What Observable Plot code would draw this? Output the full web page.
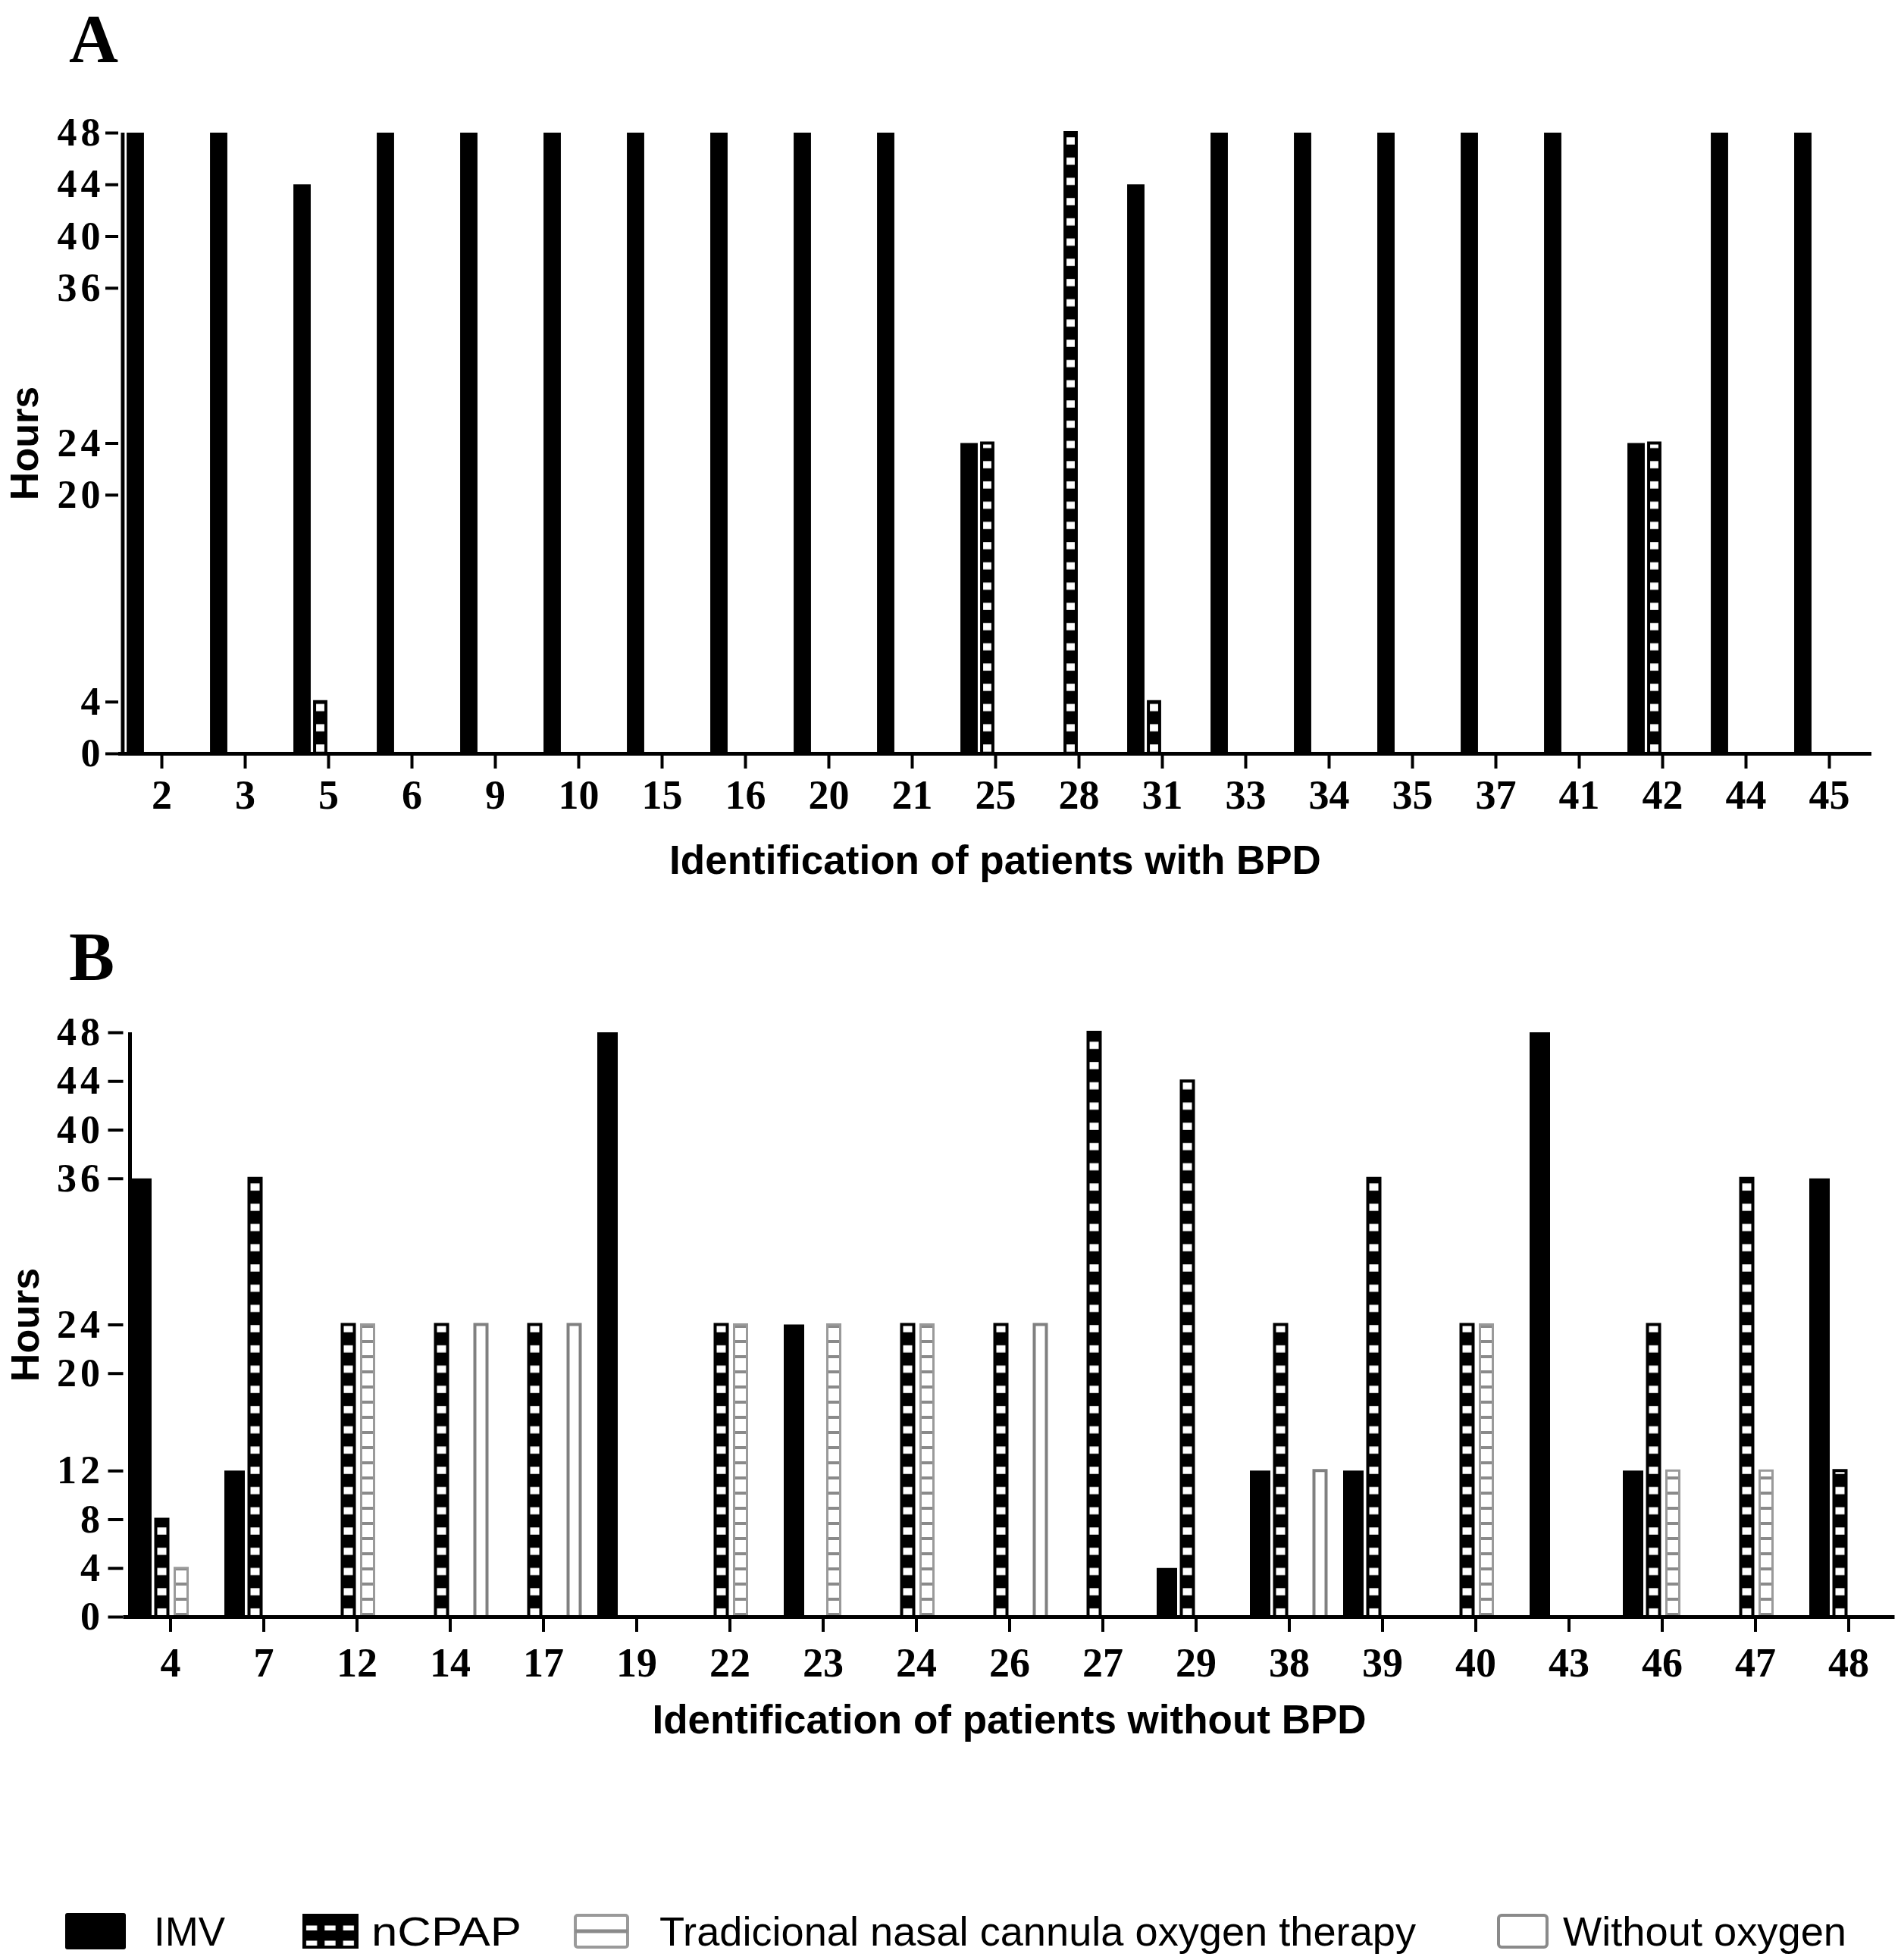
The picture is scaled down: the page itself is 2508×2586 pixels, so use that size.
<!DOCTYPE html>
<html>
<head>
<meta charset="utf-8">
<script src="https://cdn.jsdelivr.net/npm/d3@7"></script>
<script src="https://cdn.jsdelivr.net/npm/@observablehq/plot@0.6"></script>
<style>
  html, body { margin: 0; padding: 0; background: #fff; }
  body { width: 2508px; height: 2586px; position: relative; overflow: hidden; }
  .panel { position: absolute; left: 0; }
  .panel svg { display: block; }
  g[aria-label="y-axis tick label"] text { letter-spacing: 5px; }
  #overlay { position: absolute; left: 0; top: 0; pointer-events: none; }
</style>
</head>
<body>
<svg width="0" height="0" style="position:absolute">
  <defs>
    <pattern id="ncpapFill" patternUnits="userSpaceOnUse" x="0" y="4" width="10" height="26.7">
      <rect width="10" height="26.7" fill="#000"/>
      <rect y="17" width="10" height="9.5" fill="#fff"/>
    </pattern>
    <pattern id="tradFill" patternUnits="userSpaceOnUse" x="0" y="0" width="10" height="20">
      <rect width="10" height="20" fill="#fff"/>
      <rect y="8" width="10" height="4" fill="#8a8a8a"/>
    </pattern>
    <pattern id="lgNcpap" patternUnits="userSpaceOnUse" x="399" y="2527" width="24.33" height="20">
      <rect width="24.33" height="20" fill="#000"/>
      <rect x="5" y="13.5" width="14.3" height="6.5" fill="#fff"/>
    </pattern>
  </defs>
</svg>
<div id="panelA" class="panel" style="top:0px"></div>
<div id="panelB" class="panel" style="top:1220px"></div>
<svg id="overlay" width="2508" height="2586">
  <text x="91" y="82" font-family="Liberation Serif" font-weight="bold" font-size="90">A</text>
  <text x="91" y="1293" font-family="Liberation Serif" font-weight="bold" font-size="90">B</text>
  <g font-family="Liberation Sans" font-size="54" fill="#000">
    <rect x="86" y="2524" width="80" height="48" rx="3" fill="#000"/>
    <text x="203" y="2567" textLength="94" lengthAdjust="spacingAndGlyphs">IMV</text>
    <rect x="400.5" y="2526.5" width="71" height="43" fill="url(#lgNcpap)" stroke="#000" stroke-width="3"/>
    <text x="490" y="2567" textLength="198" lengthAdjust="spacingAndGlyphs">nCPAP</text>
    <rect x="759" y="2527" width="69" height="42" rx="3" fill="#fff" stroke="#9a9a9a" stroke-width="4"/>
    <rect x="759" y="2545.5" width="69" height="5" fill="#8a8a8a"/>
    <text x="870" y="2567" textLength="998" lengthAdjust="spacingAndGlyphs">Tradicional nasal cannula oxygen therapy</text>
    <rect x="1977" y="2527" width="64" height="42" rx="4" fill="#fff" stroke="#8a8a8a" stroke-width="4"/>
    <text x="2062" y="2567" textLength="374" lengthAdjust="spacingAndGlyphs">Without oxygen</text>
  </g>
</svg>
<script>
// ---------- Panel A: patients with BPD ----------
const patientsA = ["2","3","5","6","9","10","15","16","20","21","25","28","31","33","34","35","37","41","42","44","45"];
const imvA      = [48, 48, 44, 48, 48, 48, 48, 48, 48, 48, 24, 0, 44, 48, 48, 48, 48, 48, 24, 48, 48];
const ncpapA    = [0, 0, 4, 0, 0, 0, 0, 0, 0, 0, 24, 48, 4, 0, 0, 0, 0, 0, 24, 0, 0];
const tradA     = [0, 0, 0, 0, 0, 0, 0, 0, 0, 0, 0, 0, 0, 0, 0, 0, 0, 0, 0, 0, 0];
const withoutA  = [0, 0, 0, 0, 0, 0, 0, 0, 0, 0, 0, 0, 0, 0, 0, 0, 0, 0, 0, 0, 0];
const yTicksA   = [0, 4, 20, 24, 36, 40, 44, 48];
const xLabelA   = "Identification of patients with BPD";

// ---------- Panel B: patients without BPD ----------
const patientsB = ["4","7","12","14","17","19","22","23","24","26","27","29","38","39","40","43","46","47","48"];
const imvB      = [36, 12, 0, 0, 0, 48, 0, 24, 0, 0, 0, 4, 12, 12, 0, 48, 12, 0, 36];
const ncpapB    = [8, 36, 24, 24, 24, 0, 24, 0, 24, 24, 48, 44, 24, 36, 24, 0, 24, 36, 12];
const tradB     = [4, 0, 24, 0, 0, 0, 24, 24, 24, 0, 0, 0, 0, 0, 24, 0, 12, 12, 0];
const withoutB  = [0, 0, 0, 24, 24, 0, 0, 0, 0, 24, 0, 0, 12, 0, 0, 0, 0, 0, 0];
const yTicksB   = [0, 4, 8, 12, 20, 24, 36, 40, 44, 48];
const xLabelB   = "Identification of patients without BPD";

const seriesNames = ["IMV", "nCPAP", "Tradicional nasal cannula oxygen therapy", "Without oxygen"];
const yLabel = "Hours";

// visual styles per series (bar edges relative to group centre, in px)
const stylesA = [
  {l: -46, r: -23, fill: "#000"},
  {l: -20, r: -1, fill: "url(#ncpapFill)", stroke: "#000", strokeWidth: 4},
  {l: 3, r: 22, fill: "url(#tradFill)", stroke: "#9a9a9a", strokeWidth: 3},
  {l: 27, r: 46, fill: "#fff", stroke: "#808080", strokeWidth: 4}
];
const stylesB = [
  {l: -51.5, r: -24.5, fill: "#000"},
  {l: -21, r: -1, fill: "url(#ncpapFill)", stroke: "#000", strokeWidth: 4},
  {l: 4.5, r: 24.5, fill: "url(#tradFill)", stroke: "#9a9a9a", strokeWidth: 3},
  {l: 31, r: 51, fill: "#fff", stroke: "#808080", strokeWidth: 4}
];

function barsFor(patients, values, st, step) {
  const data = patients.map((p, i) => ({patient: p, hours: values[i]})).filter(d => d.hours > 0);
  const sw = st.strokeWidth || 0;
  const half = step / 2;
  return Plot.barY(data, {
    x: "patient", y1: 0, y2: "hours",
    fill: st.fill, stroke: st.stroke, strokeWidth: sw,
    insetLeft: half + st.l + sw / 2,
    insetRight: half - st.r + sw / 2
  });
}

function panel(cfg) {
  const step = (cfg.width - cfg.marginLeft - cfg.marginRight) / cfg.patients.length;
  const marks = cfg.series.map((vals, k) => barsFor(cfg.patients, vals, cfg.styles[k], step));
  const axisOffset = cfg.yAxisX - cfg.marginLeft;
  return Plot.plot({
    width: cfg.width, height: cfg.height,
    marginTop: cfg.marginTop, marginBottom: cfg.marginBottom,
    marginLeft: cfg.marginLeft, marginRight: cfg.marginRight,
    x: {type: "band", domain: cfg.patients, padding: 0},
    y: {domain: [0, 48]},
    marks: [
      ...marks,
      // y-axis line (left edge of first band)
      Plot.barY([cfg.patients[0]], {x: d => d, y1: 0, y2: 48, fill: "#000",
        insetLeft: axisOffset - 2.5, insetRight: step - axisOffset - 2.5}),
      // x-axis line
      Plot.ruleY([0], {strokeWidth: 5, stroke: "#000"}),
      Plot.axisX({tickSize: 20, tickPadding: cfg.xTickPadding, strokeWidth: 4, label: null,
        fontSize: 54, fontFamily: "Liberation Serif", fontWeight: "bold", fill: "#000"}),
      Plot.axisY({ticks: cfg.yTicks, tickSize: cfg.yTickSize, tickPadding: cfg.yTickPadding,
        strokeWidth: 4, label: null, tickFormat: d => String(d),
        fontSize: 52, fontFamily: "Liberation Serif", fontWeight: "bold", fill: "#000"}),
      Plot.text([cfg.xLabel], {text: d => d, frameAnchor: "bottom", dy: cfg.xLabelDy,
        textAnchor: "middle", lineAnchor: "middle",
        fontSize: 53, fontFamily: "Liberation Sans", fontWeight: "bold", fill: "#000"}),
      Plot.text([yLabel], {text: d => d, frameAnchor: "left", dx: cfg.yLabelDx, rotate: -90,
        textAnchor: "middle", lineAnchor: "middle",
        fontSize: 52, fontFamily: "Liberation Sans", fontWeight: "bold", fill: "#000"})
    ]
  });
}

document.getElementById("panelA").append(panel({
  patients: patientsA, series: [imvA, ncpapA, tradA, withoutA], styles: stylesA,
  width: 2508, height: 1200, marginTop: 175, marginBottom: 206, marginLeft: 156, marginRight: 39,
  yAxisX: 160, yTicks: yTicksA, yTickSize: 17, yTickPadding: 2, xTickPadding: 14,
  xLabel: xLabelA, xLabelDy: 142, yLabelDx: -123
}));

document.getElementById("panelB").append(panel({
  patients: patientsB, series: [imvB, ncpapB, tradB, withoutB], styles: stylesB,
  width: 2508, height: 1110, marginTop: 142, marginBottom: 197, marginLeft: 162.5, marginRight: 8.5,
  yAxisX: 171, yTicks: yTicksB, yTickSize: 20, yTickPadding: 6, xTickPadding: 20,
  xLabel: xLabelB, xLabelDy: 137, yLabelDx: -129
}));
</script>
</body>
</html>
